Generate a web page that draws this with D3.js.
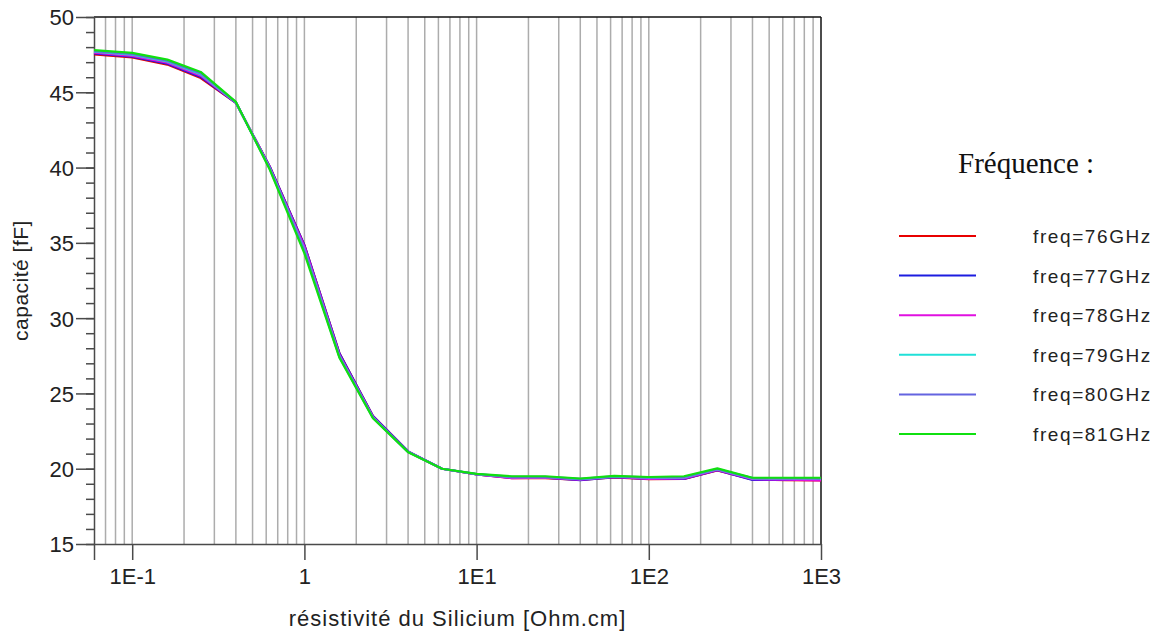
<!DOCTYPE html>
<html>
<head>
<meta charset="utf-8">
<script src="https://cdn.jsdelivr.net/npm/d3@7"></script>
<style>
  body { margin: 0; background: #fff; }
  svg { display: block; }
</style>
</head>
<body>
<svg id="chart" width="1159" height="634"></svg>
<script>
'use strict';

// resistivity values (Ohm.cm), log axis
const resistivity = [0.06, 0.1, 0.16, 0.25, 0.4, 0.63, 1, 1.6, 2.5, 4, 6.3, 10, 16, 25, 40, 63, 100, 160, 250, 400, 630, 1000];

// capacitance (fF) for each frequency
const cap76 = [47.52, 47.31, 46.84, 45.95, 44.30, 40.05, 34.85, 27.65, 23.50, 21.15, 20.00, 19.62, 19.38, 19.38, 19.25, 19.42, 19.30, 19.32, 19.88, 19.28, 19.24, 19.22];
const cap77 = [47.58, 47.36, 46.90, 46.02, 44.30, 40.05, 34.85, 27.65, 23.50, 21.15, 20.00, 19.62, 19.40, 19.40, 19.24, 19.44, 19.32, 19.32, 19.90, 19.26, 19.26, 19.26];
const cap78 = [47.64, 47.42, 46.97, 46.10, 44.32, 40.00, 34.75, 27.55, 23.45, 21.13, 20.00, 19.63, 19.38, 19.40, 19.28, 19.45, 19.32, 19.35, 19.92, 19.30, 19.28, 19.22];
const cap79 = [47.70, 47.50, 47.05, 46.20, 44.33, 39.95, 34.55, 27.45, 23.40, 21.12, 20.00, 19.64, 19.44, 19.45, 19.30, 19.48, 19.40, 19.42, 19.97, 19.36, 19.36, 19.35];
const cap80 = [47.74, 47.55, 47.10, 46.27, 44.35, 39.90, 34.45, 27.40, 23.38, 21.12, 20.00, 19.65, 19.46, 19.46, 19.32, 19.50, 19.42, 19.45, 19.98, 19.38, 19.38, 19.37];
const cap81 = [47.80, 47.62, 47.17, 46.35, 44.36, 39.85, 34.30, 27.35, 23.35, 21.10, 20.00, 19.66, 19.50, 19.50, 19.35, 19.52, 19.45, 19.50, 20.02, 19.40, 19.40, 19.40];

const seriesNames = ['freq=76GHz', 'freq=77GHz', 'freq=78GHz', 'freq=79GHz', 'freq=80GHz', 'freq=81GHz'];
const seriesColors = ['#e80000', '#1c1ce0', '#e010e0', '#20e0d8', '#6464e0', '#10e010'];
const seriesValues = [cap76, cap77, cap78, cap79, cap80, cap81];

const xTickValues = [0.1, 1, 10, 100, 1000];
const xTickLabels = ['1E-1', '1', '1E1', '1E2', '1E3'];
const yMajorTicks = [15, 20, 25, 30, 35, 40, 45, 50];

// plot box
const plotLeft = 94, plotRight = 821, plotTop = 17, plotBottom = 544;

const svg = d3.select('#chart');

const x = d3.scaleLog()
  .domain([0.06, 1000])
  .range([plotLeft, plotRight]);
const y = d3.scaleLinear()
  .domain([15, 50])
  .range([plotBottom, plotTop]);

// vertical grid lines (1..9 in each decade)
svg.append('g')
  .selectAll('line')
  .data(x.ticks().filter(d => d > 0.0601 && d < 999))
  .enter().append('line')
  .attr('x1', d => x(d))
  .attr('x2', d => x(d))
  .attr('y1', plotTop)
  .attr('y2', plotBottom)
  .attr('stroke', '#acacac')
  .attr('stroke-width', 1.5);

// frame top and right
svg.append('line')
  .attr('x1', plotLeft).attr('x2', plotRight)
  .attr('y1', plotTop).attr('y2', plotTop)
  .attr('stroke', '#111').attr('stroke-width', 1.5);
svg.append('line')
  .attr('x1', plotRight).attr('x2', plotRight)
  .attr('y1', plotTop).attr('y2', plotBottom)
  .attr('stroke', '#111').attr('stroke-width', 1.5);

// y axis: minor then major ticks
const yMinor = svg.append('g')
  .attr('transform', `translate(${plotLeft},0)`)
  .call(d3.axisLeft(y).tickValues(d3.range(15, 51, 1)).tickSize(8).tickFormat(''));
yMinor.select('.domain').remove();

const yAxis = svg.append('g')
  .attr('transform', `translate(${plotLeft},0)`)
  .call(d3.axisLeft(y).tickValues(yMajorTicks).tickSize(18).tickPadding(2).tickSizeOuter(0));

// x axis
const xAxis = svg.append('g')
  .attr('transform', `translate(0,${plotBottom})`)
  .call(d3.axisBottom(x)
    .tickValues([0.06].concat(xTickValues))
    .tickSize(16)
    .tickSizeOuter(0)
    .tickPadding(8)
    .tickFormat(d => {
      const i = xTickValues.indexOf(d);
      return i < 0 ? '' : xTickLabels[i];
    }));

svg.selectAll('.tick line, .domain')
  .attr('stroke', '#4a4a4a')
  .attr('stroke-width', 1.5);
svg.selectAll('.tick text')
  .attr('fill', '#222')
  .style('font-family', '"Liberation Sans", Arial, sans-serif')
  .style('font-size', '22px');
yAxis.selectAll('.tick text').attr('dy', '0.36em');

// the curves
const line = d3.line()
  .x((d, i) => x(resistivity[i]))
  .y(d => y(d));

svg.append('g')
  .selectAll('path')
  .data(seriesValues)
  .enter().append('path')
  .attr('d', d => line(d))
  .attr('fill', 'none')
  .attr('stroke', (d, i) => seriesColors[i])
  .attr('stroke-width', 2.2)
  .attr('stroke-linejoin', 'round');

// axis titles
svg.append('text')
  .attr('x', (plotLeft + plotRight) / 2)
  .attr('y', 626)
  .attr('text-anchor', 'middle')
  .attr('fill', '#222')
  .style('font-family', '"Liberation Sans", Arial, sans-serif')
  .style('font-size', '22px')
  .style('letter-spacing', '1px')
  .text('résistivité du Silicium [Ohm.cm]');

svg.append('text')
  .attr('transform', `translate(28,${(plotTop + plotBottom) / 2}) rotate(-90)`)
  .attr('text-anchor', 'middle')
  .attr('fill', '#222')
  .style('font-family', '"Liberation Sans", Arial, sans-serif')
  .style('font-size', '21px')
  .style('letter-spacing', '0.5px')
  .text('capacité [fF]');

// legend
svg.append('text')
  .attr('x', 958)
  .attr('y', 173)
  .attr('fill', '#111')
  .style('font-family', '"Liberation Serif", "Times New Roman", serif')
  .style('font-size', '29px')
  .text('Fréquence :');

const legendY = d3.scaleLinear().domain([0, 5]).range([236, 434]);

const legend = svg.append('g')
  .selectAll('g')
  .data(seriesNames)
  .enter().append('g')
  .attr('transform', (d, i) => `translate(0,${legendY(i)})`);

legend.append('line')
  .attr('x1', 899).attr('x2', 976)
  .attr('stroke', (d, i) => seriesColors[i])
  .attr('stroke-width', 2);

legend.append('text')
  .attr('x', 1033)
  .attr('y', 7)
  .attr('fill', '#222')
  .style('font-family', '"Liberation Sans", Arial, sans-serif')
  .style('font-size', '19px')
  .style('letter-spacing', '1.6px')
  .text(d => d);
</script>
</body>
</html>
